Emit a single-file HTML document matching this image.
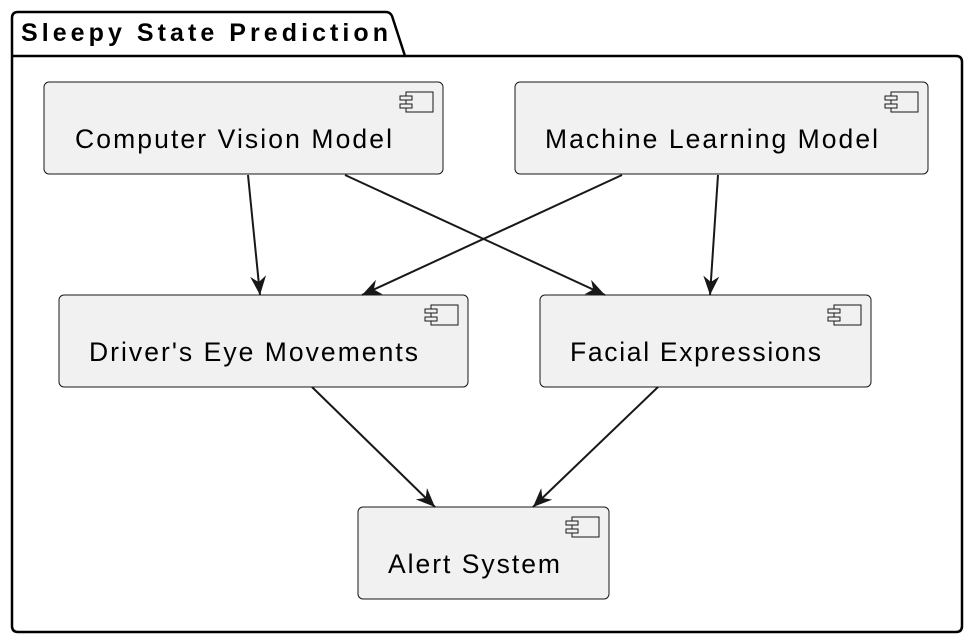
<!DOCTYPE html>
<html><head><style>body{margin:0;background:#fff}svg{display:block}</style></head><body>
<svg width="976" height="644" viewBox="0 0 976 644" xmlns="http://www.w3.org/2000/svg">
<defs>
<marker id="a" viewBox="0 0 20 16" refX="19" refY="8" markerWidth="20" markerHeight="16" markerUnits="userSpaceOnUse" orient="auto">
<path d="M0,0 L19,8 L0,16 L6,8 Z" fill="#181818"/>
</marker>
<g id="ic"><rect x="6" y="0" width="27" height="20" fill="#f1f1f1" stroke="#181818" stroke-width="1"/><rect x="0" y="4" width="12" height="4" fill="#f1f1f1" stroke="#181818"/><rect x="0" y="12" width="12" height="4" fill="#f1f1f1" stroke="#181818"/></g>
</defs>
<path d="M12,56 L12,18 Q12,12 18,12 L386,12 Q390,12 392,16 L405,56 L956,56 Q962,56 962,62 L962,626 Q962,632 956,632 L18,632 Q12,632 12,626 Z" fill="#fff" stroke="#000" stroke-width="2.5"/>
<line x1="12" y1="56" x2="405" y2="56" stroke="#000" stroke-width="2.5"/>
<text x="21" y="41" font-family="Liberation Sans, sans-serif" font-weight="bold" font-size="25" textLength="367" lengthAdjust="spacing" fill="#000">Sleepy State Prediction</text>
<g font-family="Liberation Sans, sans-serif" font-size="24" fill="#000" stroke="#181818">
<rect x="44" y="82" width="399" height="92" rx="5" fill="#f1f1f1"/>
<rect x="515" y="82" width="413" height="92" rx="5" fill="#f1f1f1"/>
<rect x="59" y="295" width="409" height="92" rx="5" fill="#f1f1f1"/>
<rect x="540" y="295" width="331" height="92" rx="5" fill="#f1f1f1"/>
<rect x="358" y="507" width="251" height="92" rx="5" fill="#f1f1f1"/>
</g>
<use href="#ic" x="400" y="92"/><use href="#ic" x="885" y="92"/><use href="#ic" x="425" y="305"/><use href="#ic" x="828" y="305"/><use href="#ic" x="566" y="517"/>
<g font-family="Liberation Sans, sans-serif" font-size="26.5" fill="#000" lengthAdjust="spacing">
<text x="75" y="148" textLength="317">Computer Vision Model</text>
<text x="545" y="148" textLength="333">Machine Learning Model</text>
<text x="89" y="361" textLength="329">Driver's Eye Movements</text>
<text x="570" y="361" textLength="251">Facial Expressions</text>
<text x="388" y="573" textLength="172">Alert System</text>
</g>
<g stroke="#181818" stroke-width="2" marker-end="url(#a)">
<line x1="248" y1="175" x2="260" y2="295"/>
<line x1="345" y1="175" x2="605" y2="295"/>
<line x1="622" y1="175" x2="362" y2="295"/>
<line x1="718" y1="175" x2="710" y2="295"/>
<line x1="312" y1="387" x2="435" y2="507"/>
<line x1="658" y1="387" x2="533" y2="507"/>
</g>
</svg>
</body></html>
